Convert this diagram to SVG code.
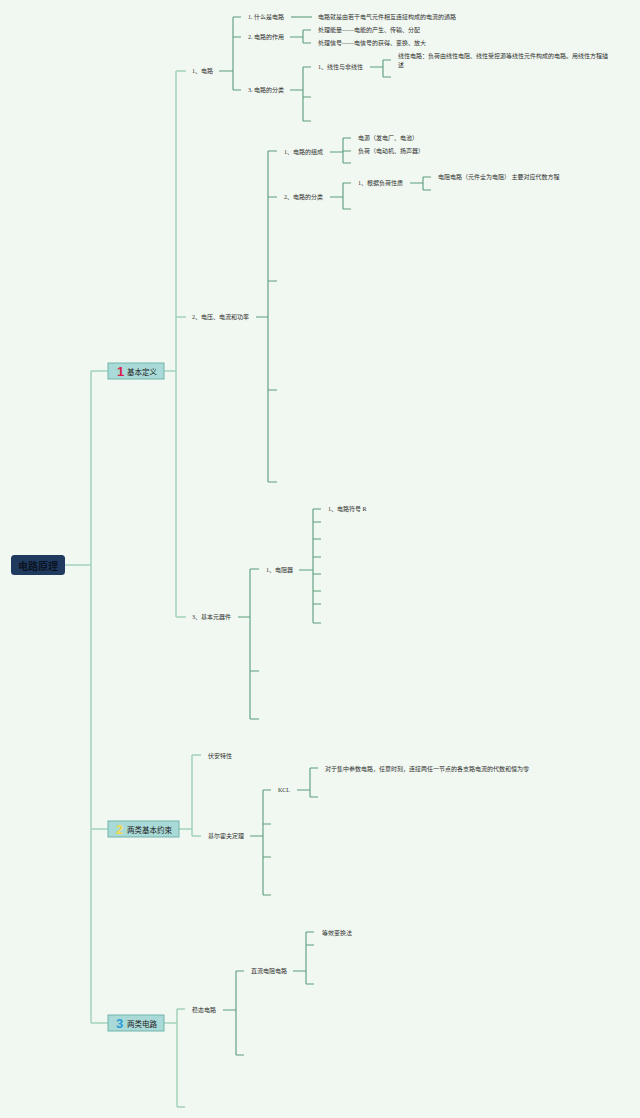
<svg xmlns="http://www.w3.org/2000/svg" width="640" height="1118" viewBox="0 0 640 1118">
<defs>
<style>
.bg{fill:#f1f8f1}
.c1{stroke:#a2d2bb;stroke-width:1.5;fill:none}
.c2{stroke:#5a9b7b;stroke-width:1.1;fill:none}
.t{font-family:"Liberation Serif","Noto Sans CJK SC",serif;font-size:6px;fill:#2f2f2f;dominant-baseline:central}
.bt{font-family:"Noto Sans CJK SC","Liberation Sans",sans-serif;font-size:7.5px;fill:#222;dominant-baseline:central}
.num{font-family:"Liberation Sans","Noto Sans",sans-serif;font-size:13px;font-weight:bold;dominant-baseline:central}
.box{fill:#a9dad7;stroke:#72b3ab;stroke-width:1}
</style>
</defs>
<rect class="bg" x="0" y="0" width="640" height="1118"/>
<g id="connectors">
<path class="c1" d="M65 565H91M91 371V1023M91 371H108M91 829H108M91 1023H108"/>
<path class="c1" d="M164 371H176M176 71V617M176 71H186M176 317H186M176 617H186"/>
<path class="c2" d="M219 71H233M233 17V90M233 17H241M233 37H241M233 90H241"/>
<path class="c2" d="M291 17H312"/>
<path class="c2" d="M290 37H303M303 30V43M303 30H311M303 43H311"/>
<path class="c2" d="M290 90H303M303 67V121M303 67H311M303 97H311M303 121H311"/>
<path class="c2" d="M370 67H383M383 60V77M383 60H391M383 77H391"/>
<path class="c2" d="M256 317H268M268 151V482M268 151H277M268 197H277M268 281H277M268 390H277M268 482H277"/>
<path class="c2" d="M330 152H343M343 138V163M343 138H351M343 151H351M343 163H351"/>
<path class="c2" d="M330 197H343M343 183V209M343 183H351M343 209H351"/>
<path class="c2" d="M410 183H423M423 177V190M423 177H431M423 190H431"/>
<path class="c2" d="M238 617H250M250 569V719M250 569H259M250 671H259M250 719H259"/>
<path class="c2" d="M299 570H313M313 509V623M313 509H321M313 522H321M313 539H321M313 557H321M313 574H321M313 591H321M313 604H321M313 623H321"/>
<path class="c1" d="M179 829H192M192 755V836M192 755H201M192 836H201"/>
<path class="c2" d="M250 836H263M263 790V895M263 790H271M263 824H271M263 857H271M263 895H271"/>
<path class="c2" d="M297 790H310M310 768V797M310 768H318M310 797H318"/>
<path class="c1" d="M164 1023H177M177 1009V1107M177 1009H185M177 1107H185"/>
<path class="c2" d="M223 1010H236M236 971V1055M236 971H244M236 1055H244"/>
<path class="c2" d="M293 971H306M306 932V984M306 932H314M306 945H314M306 984H314"/>
</g>
<g id="root">
<rect x="11" y="555" width="54" height="20" rx="3.5" fill="#1f3a5e"/>
<text x="38" y="565.5" text-anchor="middle" font-family="'Noto Sans CJK SC',sans-serif" font-size="10" font-weight="bold" fill="#0b1322" dominant-baseline="central">电路原理</text>
</g>
<g id="b1">
<rect class="box" x="108" y="363" width="56" height="16"/>
<text class="num" x="117" y="371.5" fill="#d8204c">1</text>
<text class="bt" x="127" y="371.5">基本定义</text>
</g>
<g id="b2">
<rect class="box" x="108" y="821" width="71" height="16"/>
<text class="num" x="116" y="829.5" fill="#f2d94e">2</text>
<text class="bt" x="127" y="829.5">两类基本约束</text>
</g>
<g id="b3">
<rect class="box" x="108" y="1015" width="56" height="16"/>
<text class="num" x="116" y="1023.5" fill="#2a9ad6">3</text>
<text class="bt" x="127" y="1023.5">两类电路</text>
</g>
<g id="n1"><text class="t" x="192" y="71">1、电路</text></g>
<g id="n11"><text class="t" x="248" y="17">1. 什么是电路</text></g>
<g id="n111"><text class="t" x="318" y="17">电路就是由若干电气元件相互连接构成的电流的通路</text></g>
<g id="n12"><text class="t" x="248" y="37">2. 电路的作用</text></g>
<g id="n121"><text class="t" x="318" y="30">处理能量——电能的产生、传输、分配</text></g>
<g id="n122"><text class="t" x="318" y="43">处理信号——电信号的获得、变换、放大</text></g>
<g id="n13"><text class="t" x="248" y="90">3. 电路的分类</text></g>
<g id="n131"><text class="t" x="318" y="67">1、线性与非线性</text></g>
<g id="n1311"><text class="t" x="398" y="56">线性电路：负荷由线性电阻、线性受控源等线性元件构成的电路。用线性方程描</text><text class="t" x="398" y="65">述</text></g>
<g id="n2"><text class="t" x="192" y="317">2、电压、电流和功率</text></g>
<g id="n21"><text class="t" x="284" y="152">1、电路的组成</text></g>
<g id="n211"><text class="t" x="358" y="138">电源（发电厂、电池）</text></g>
<g id="n212"><text class="t" x="358" y="151">负荷（电动机、扬声器）</text></g>
<g id="n22"><text class="t" x="284" y="197">2、电路的分类</text></g>
<g id="n221"><text class="t" x="358" y="183">1、根据负荷性质</text></g>
<g id="n2211"><text class="t" x="438" y="177">电阻电路（元件全为电阻） 主要对应代数方程</text></g>
<g id="n3"><text class="t" x="192" y="617">3、基本元器件</text></g>
<g id="n31"><text class="t" x="266" y="570">1、电阻器</text></g>
<g id="n311"><text class="t" x="328" y="509">1、电路符号 R</text></g>
<g id="m1"><text class="t" x="208" y="756">伏安特性</text></g>
<g id="m2"><text class="t" x="208" y="836">基尔霍夫定理</text></g>
<g id="m21"><text class="t" x="278" y="790">KCL</text></g>
<g id="m211"><text class="t" x="325" y="769">对于集中参数电路，任意时刻，连接两任一节点的各支路电流的代数和恒为零</text></g>
<g id="k1"><text class="t" x="192" y="1010">稳态电路</text></g>
<g id="k11"><text class="t" x="251" y="971">直流电阻电路</text></g>
<g id="k111"><text class="t" x="322" y="933">等效变换法</text></g>
</svg>
